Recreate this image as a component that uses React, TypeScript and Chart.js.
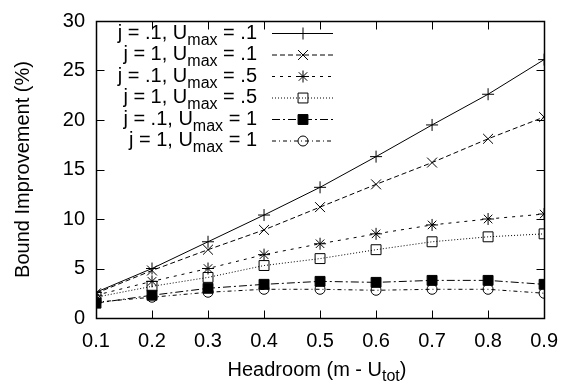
import React, { useEffect, useRef } from 'react';
import { Chart, registerables } from 'chart.js';

Chart.register(...registerables);

// ---------- data ----------
const headroom = [0.1, 0.2, 0.3, 0.4, 0.5, 0.6, 0.7, 0.8, 0.9];
const jPt1UPt1 = [2.6, 5.0, 7.7, 10.4, 13.2, 16.3, 19.5, 22.6, 26.1];
const j1UPt1 = [2.5, 4.8, 6.9, 8.9, 11.2, 13.5, 15.7, 18.1, 20.3];
const jPt1UPt5 = [2.3, 3.7, 5.0, 6.4, 7.5, 8.5, 9.4, 10.0, 10.5];
const j1UPt5 = [2.1, 3.2, 4.1, 5.3, 6.0, 6.9, 7.7, 8.2, 8.5];
const jPt1U1 = [1.5, 2.3, 3.0, 3.4, 3.7, 3.6, 3.8, 3.8, 3.4];
const j1U1 = [1.6, 2.1, 2.6, 2.9, 2.9, 2.8, 2.9, 2.9, 2.5];
const jLabels = ['.1', '1', '.1', '1', '.1', '1'];
const uMaxLabels = ['.1', '.1', '.5', '.5', '1', '1'];
const xTickValues = [0.1, 0.2, 0.3, 0.4, 0.5, 0.6, 0.7, 0.8, 0.9];
const yTickValues = [0, 5, 10, 15, 20, 25, 30];
const yTitle = 'Bound Improvement (%)';
const xTitleMain = 'Headroom (m - U';
const xTitleSub = 'tot';
const xTitleEnd = ')';

const seriesValues = [jPt1UPt1, j1UPt1, jPt1UPt5, j1UPt5, jPt1U1, j1U1];

// ---------- styles ----------
const FONT = '"Liberation Sans", Arial, Helvetica, sans-serif';
const MAIN_SIZE = 20;
const SUB_SIZE = 16;
const styles = [
  { dash: [], point: 'cross', radius: 6, fill: 'rgba(0,0,0,0)' },
  { dash: [5, 3], point: 'crossRot', radius: 7, fill: 'rgba(0,0,0,0)' },
  { dash: [3, 5], point: 'star', radius: 6, fill: 'rgba(0,0,0,0)' },
  { dash: [1, 2], point: 'rect', radius: 7, fill: 'rgba(0,0,0,0)' },
  { dash: [8, 3, 2, 3], point: 'rect', radius: 7, fill: '#000' },
  { dash: [4, 3, 1, 3], point: 'circle', radius: 5, fill: 'rgba(0,0,0,0)' },
];

function drawMarker(ctx: CanvasRenderingContext2D, style: string, x: number, y: number, r: number, fill: string) {
  ctx.save();
  ctx.setLineDash([]);
  ctx.lineWidth = 1;
  ctx.strokeStyle = '#000';
  ctx.fillStyle = fill;
  ctx.beginPath();
  if (style === 'cross' || style === 'star') {
    ctx.moveTo(x - r, y); ctx.lineTo(x + r, y);
    ctx.moveTo(x, y - r); ctx.lineTo(x, y + r);
  }
  if (style === 'crossRot' || style === 'star') {
    const d = r * Math.SQRT1_2;
    ctx.moveTo(x - d, y - d); ctx.lineTo(x + d, y + d);
    ctx.moveTo(x - d, y + d); ctx.lineTo(x + d, y - d);
  }
  if (style === 'rect') {
    const s = r * Math.SQRT1_2;
    ctx.rect(x - s, y - s, 2 * s, 2 * s);
    ctx.fill();
  }
  if (style === 'circle') {
    ctx.arc(x, y, r, 0, Math.PI * 2);
    ctx.fill();
  }
  ctx.stroke();
  ctx.restore();
}

function subText(
  ctx: CanvasRenderingContext2D,
  parts: [string, string, string],
  x: number,
  baseline: number,
  align: 'right' | 'center' | 'left',
  subDy: number
) {
  const mainF = `${MAIN_SIZE}px ${FONT}`;
  const subF = `${SUB_SIZE}px ${FONT}`;
  ctx.font = mainF;
  const w1 = ctx.measureText(parts[0]).width;
  const w3 = ctx.measureText(parts[2]).width;
  ctx.font = subF;
  const w2 = ctx.measureText(parts[1]).width;
  const total = w1 + w2 + w3;
  let sx = x;
  if (align === 'right') sx = x - total;
  else if (align === 'center') sx = x - total / 2;
  ctx.textAlign = 'left';
  ctx.textBaseline = 'alphabetic';
  ctx.fillStyle = '#000';
  ctx.font = mainF;
  ctx.fillText(parts[0], sx, baseline);
  ctx.font = subF;
  ctx.fillText(parts[1], sx + w1, baseline + subDy);
  ctx.font = mainF;
  ctx.fillText(parts[2], sx + w1 + w2, baseline);
}

const decorPlugin = {
  id: 'gnuplotDecor',
  afterDraw(chart: any) {
    const { ctx, chartArea: a, scales } = chart;
    const xs = scales.x;
    const ys = scales.y;
    ctx.save();
    ctx.strokeStyle = '#000';
    ctx.lineWidth = 1;
    ctx.setLineDash([]);
    const L = Math.round(a.left) + 0.5;
    const R = Math.round(a.right) + 0.5;
    const T = Math.round(a.top) + 0.5;
    const B = Math.round(a.bottom) + 0.5;
    const TL = 8;
    ctx.beginPath();
    xs.ticks.forEach((t: any) => {
      const px = Math.round(xs.getPixelForValue(t.value)) + 0.5;
      ctx.moveTo(px, B); ctx.lineTo(px, B - TL);
      ctx.moveTo(px, T); ctx.lineTo(px, T + TL);
    });
    ys.ticks.forEach((t: any) => {
      const py = Math.round(ys.getPixelForValue(t.value)) + 0.5;
      ctx.moveTo(L, py); ctx.lineTo(L + TL, py);
      ctx.moveTo(R, py); ctx.lineTo(R - TL, py);
    });
    ctx.stroke();
    ctx.lineWidth = 1.5;
    ctx.strokeRect(L, T, R - L, B - T);

    // legend
    for (let i = 0; i < seriesValues.length; i++) {
      const ly = 33.5 + i * 21.5;
      const st = styles[i];
      ctx.save();
      ctx.lineWidth = 1;
      ctx.setLineDash(st.dash);
      ctx.beginPath();
      ctx.moveTo(272, ly);
      ctx.lineTo(333, ly);
      ctx.stroke();
      ctx.restore();
      drawMarker(ctx, st.point, 303, ly, st.radius, st.fill);
      subText(ctx, [`j = ${jLabels[i]}, U`, 'max', ` = ${uMaxLabels[i]}`], 257, ly + 5, 'right', 6);
    }

    // axis titles
    subText(ctx, [xTitleMain, xTitleSub, xTitleEnd], 317, 376, 'center', 5);
    ctx.save();
    ctx.translate(29, (a.top + a.bottom) / 2);
    ctx.rotate(-Math.PI / 2);
    ctx.font = `${MAIN_SIZE}px ${FONT}`;
    ctx.fillStyle = '#000';
    ctx.textAlign = 'center';
    ctx.textBaseline = 'alphabetic';
    ctx.fillText(yTitle, 0, 0);
    ctx.restore();
    ctx.restore();
  },
};

export default function App() {
  const ref = useRef<HTMLCanvasElement | null>(null);
  useEffect(() => {
    document.body.style.margin = '0';
    const canvas = ref.current;
    if (!canvas) return;
    const chart = new Chart(canvas, {
      type: 'line',
      data: {
        datasets: seriesValues.map((vals, i) => ({
          label: `j = ${jLabels[i]}, Umax = ${uMaxLabels[i]}`,
          data: headroom.map((h, k) => ({ x: h, y: vals[k] })),
          borderColor: '#000',
          borderWidth: 1,
          borderDash: styles[i].dash,
          pointStyle: styles[i].point as any,
          pointRadius: styles[i].radius,
          pointBorderWidth: 1,
          pointBorderColor: '#000',
          pointBackgroundColor: styles[i].fill,
          fill: false,
          tension: 0,
        })),
      },
      options: {
        responsive: false,
        animation: false,
        layout: { padding: { top: 11, right: 19, left: 0, bottom: 0 } },
        plugins: {
          legend: { display: false },
          tooltip: { enabled: false },
        },
        scales: {
          x: {
            type: 'linear',
            min: 0.1,
            max: 0.9,
            grid: { display: false, drawTicks: false },
            border: { display: false },
            afterBuildTicks: (s: any) => {
              s.ticks = xTickValues.map((v) => ({ value: v }));
            },
            afterFit: (s: any) => {
              s.height = 74;
            },
            ticks: {
              padding: 13,
              color: '#000',
              maxRotation: 0,
              autoSkip: false,
              font: { family: FONT, size: MAIN_SIZE, lineHeight: 1 },
              callback: (v: any) => Number(v).toFixed(1),
            },
          },
          y: {
            type: 'linear',
            min: 0,
            max: 30,
            grid: { display: false, drawTicks: false },
            border: { display: false },
            afterBuildTicks: (s: any) => {
              s.ticks = yTickValues.map((v) => ({ value: v }));
            },
            afterFit: (s: any) => {
              s.width = 96;
            },
            ticks: {
              padding: 11,
              color: '#000',
              font: { family: FONT, size: MAIN_SIZE, lineHeight: 1 },
              callback: (v: any) => String(v),
            },
          },
        },
      },
      plugins: [decorPlugin],
    });
    return () => chart.destroy();
  }, []);
  return (
    <div style={{ width: 571, height: 392, background: '#fff' }}>
      <canvas ref={ref} width={571} height={392} />
    </div>
  );
}
